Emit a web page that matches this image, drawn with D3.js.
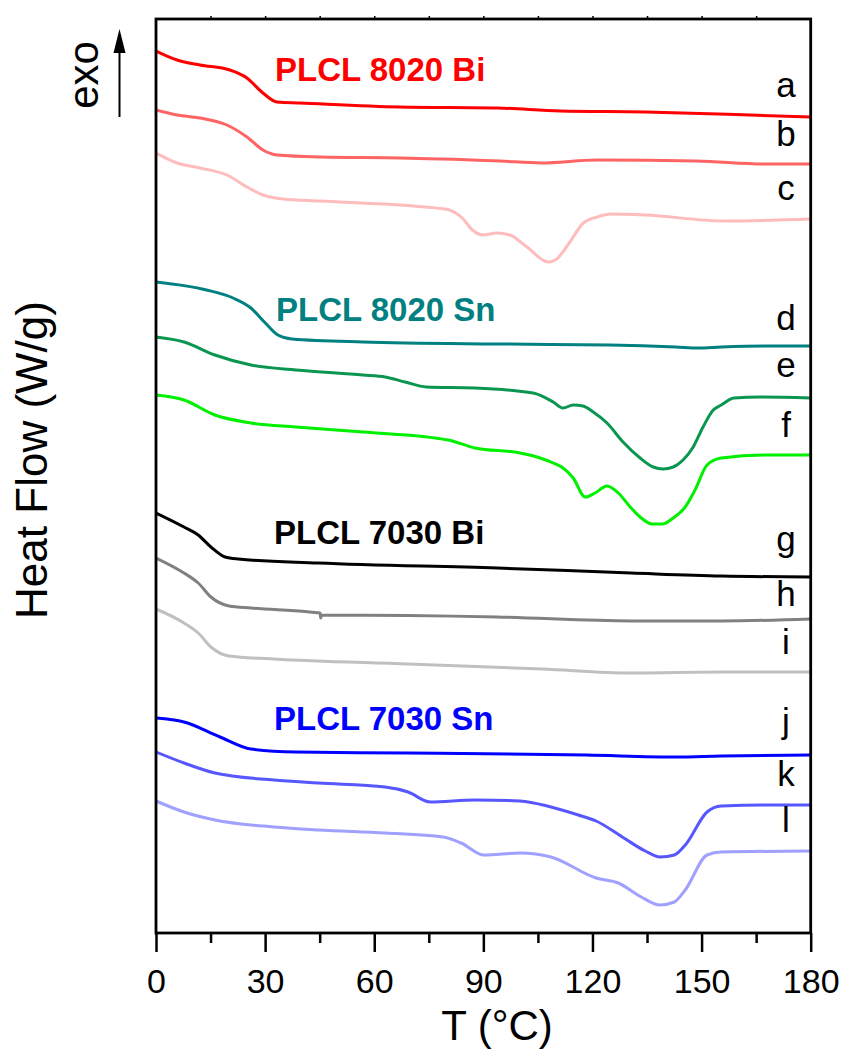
<!DOCTYPE html>
<html>
<head>
<meta charset="utf-8">
<script src="https://cdn.jsdelivr.net/npm/d3@7"></script>
<style>
  html, body { margin: 0; padding: 0; background: #fff; }
  svg { display: block; font-family: "Liberation Sans", Arial, Helvetica, sans-serif; }
</style>
</head>
<body>
<svg id="chart" width="843" height="1052"></svg>
<script>
// DSC heating traces, stacked with vertical offsets (heat flow, arbitrary W/g offset units)
const xTicks = [0, 30, 60, 90, 120, 150, 180];
const xMinorTicks = [15, 45, 75, 105, 135, 165];

const curveIds = ["a", "b", "c", "d", "e", "f", "g", "h", "i", "j", "k", "l"];
const groupTitles = ["PLCL 8020 Bi", "PLCL 8020 Sn", "PLCL 7030 Bi", "PLCL 7030 Sn"];

// temperature (°C) and heat flow for every trace
const tA = [0, 5.8, 12.1, 20.3, 25.0, 29.4, 33.3, 39.6, 67.1, 93.8, 111.1, 134.5, 163.4, 180];
const hfA = [8.82, 8.73, 8.68, 8.63, 8.55, 8.40, 8.31, 8.30, 8.26, 8.25, 8.22, 8.21, 8.18, 8.16];

const tB = [0, 5.8, 12.1, 19.5, 25.0, 29.4, 33.3, 45.1, 67.1, 94.6, 105.9, 121.3, 148.8, 167.5, 180];
const hfB = [8.23, 8.18, 8.15, 8.08, 7.96, 7.83, 7.78, 7.76, 7.75, 7.72, 7.70, 7.73, 7.72, 7.69, 7.69];

const tC = [0, 5.8, 12.1, 19.5, 25.0, 29.4, 34.9, 45.1, 79.5, 84.2, 87.0, 89.9, 93.8, 97.3, 102.0, 107.8, 109.8, 113.6, 117.5, 121.3, 124.9, 134.5, 156.2, 180];
const hfC = [7.80, 7.70, 7.65, 7.58, 7.46, 7.38, 7.34, 7.32, 7.24, 7.15, 7.03, 6.98, 7.00, 6.98, 6.86, 6.71, 6.73, 6.90, 7.10, 7.16, 7.19, 7.18, 7.12, 7.14];

const tD = [0, 13.9, 21.2, 26.1, 29.8, 33.5, 37.4, 56.9, 93.8, 124.6, 143.0, 149.1, 155.4, 167.5, 180];
const hfD = [6.51, 6.43, 6.35, 6.25, 6.11, 5.98, 5.94, 5.91, 5.89, 5.88, 5.86, 5.85, 5.86, 5.87, 5.87];

const tE = [0, 7.7, 16.2, 26.1, 38.5, 56.9, 63.0, 68.5, 74.3, 87.7, 103.7, 109.2, 111.9, 114.7, 117.4, 120.2, 124.0, 128.4, 133.1, 136.7, 139.4, 142.2, 144.9, 147.7, 150.4, 153.2, 155.4, 158.9, 166.1, 180];
const hfE = [5.96, 5.91, 5.78, 5.68, 5.63, 5.58, 5.56, 5.51, 5.46, 5.45, 5.40, 5.31, 5.25, 5.28, 5.27, 5.21, 5.10, 4.91, 4.75, 4.66, 4.64, 4.66, 4.73, 4.86, 5.06, 5.23, 5.28, 5.35, 5.36, 5.35];

const tF = [0, 7.7, 16.2, 26.1, 38.5, 56.9, 80.3, 87.7, 100.1, 105.6, 109.2, 111.9, 114.7, 118.0, 120.7, 124.0, 127.1, 130.4, 133.1, 136.4, 139.2, 142.2, 145.5, 148.2, 151.5, 155.4, 167.5, 180];
const hfF = [5.38, 5.33, 5.18, 5.10, 5.06, 5.01, 4.93, 4.85, 4.80, 4.75, 4.70, 4.65, 4.55, 4.36, 4.40, 4.47, 4.40, 4.26, 4.16, 4.09, 4.09, 4.15, 4.26, 4.43, 4.68, 4.75, 4.78, 4.78];

const tG = [0, 7.7, 11.6, 15.1, 19.0, 22.6, 44.6, 93.8, 130.6, 155.4, 180];
const hfG = [4.20, 4.06, 3.98, 3.86, 3.76, 3.74, 3.70, 3.65, 3.60, 3.57, 3.56];

const tH = [0, 7.7, 11.6, 15.1, 20.1, 26.1, 45.1, 45.3, 45.5, 93.8, 130.6, 155.4, 180];
const hfH = [3.75, 3.60, 3.50, 3.36, 3.27, 3.25, 3.20, 3.15, 3.18, 3.16, 3.12, 3.12, 3.14];

const tI = [0, 7.7, 11.6, 15.1, 20.1, 32.4, 69.3, 106.2, 130.6, 155.4, 180];
const hfI = [3.24, 3.10, 3.00, 2.86, 2.77, 2.74, 2.69, 2.64, 2.60, 2.61, 2.61];

const tJ = [0, 7.7, 17.6, 26.1, 38.5, 69.3, 118.3, 143.0, 155.4, 180];
const hfJ = [2.15, 2.11, 1.96, 1.84, 1.81, 1.80, 1.78, 1.76, 1.77, 1.78];

const tK = [0, 7.7, 16.2, 32.4, 44.6, 63.0, 69.3, 75.4, 87.7, 100.1, 108.6, 116.1, 121.0, 128.2, 134.5, 138.6, 142.5, 145.5, 151.5, 155.4, 167.5, 180];
const hfK = [1.81, 1.70, 1.60, 1.53, 1.50, 1.46, 1.41, 1.31, 1.33, 1.32, 1.26, 1.18, 1.12, 0.96, 0.82, 0.76, 0.78, 0.88, 1.21, 1.27, 1.28, 1.28];

const tL = [0, 7.7, 16.2, 32.4, 44.6, 63.0, 78.9, 83.9, 90.2, 100.1, 108.6, 121.0, 127.1, 133.4, 138.6, 142.5, 145.5, 151.5, 155.4, 180];
const hfL = [1.32, 1.21, 1.13, 1.06, 1.03, 1.00, 0.96, 0.90, 0.78, 0.80, 0.76, 0.55, 0.50, 0.36, 0.28, 0.31, 0.43, 0.78, 0.81, 0.82];

// ---- styling and layout ----
const curveColors = ["#ff0000", "#ff6464", "#ffbcbc",
                     "#008080", "#0a9650", "#00f000",
                     "#000000", "#808080", "#c0c0c0",
                     "#0000ff", "#5757ff", "#a0a0ff"];
const titleColors = ["#ff0000", "#008080", "#000000", "#0000ff"];
const titlePos = [[275, 81], [276, 321], [274, 544], [274, 730]];
const labelBaselines = [97, 146, 200, 330, 377, 437, 551, 606, 654, 733, 786, 832];

const plot = { left: 156, right: 810.7, top: 19, bottom: 933 };

const svg = d3.select("#chart");

const x = d3.scaleLinear().domain([0, 180]).range([plot.left, plot.right]);
const y = d3.scaleLinear().domain([0, 9.14]).range([plot.bottom, plot.top]);

const series = [
  [tA, hfA], [tB, hfB], [tC, hfC], [tD, hfD], [tE, hfE], [tF, hfF],
  [tG, hfG], [tH, hfH], [tI, hfI], [tJ, hfJ], [tK, hfK], [tL, hfL]
].map(([t, v], i) => ({ id: curveIds[i], color: curveColors[i], pts: t.map((tt, k) => [tt, v[k]]) }));

const line = d3.line()
  .x(d => x(d[0]))
  .y(d => y(d[1]))
  .curve(d3.curveMonotoneX);

svg.append("clipPath").attr("id", "plotClip")
  .append("rect")
  .attr("x", plot.left).attr("y", plot.top)
  .attr("width", plot.right - plot.left).attr("height", plot.bottom - plot.top);

svg.append("g").attr("clip-path", "url(#plotClip)")
  .selectAll("path.trace")
  .data(series)
  .join("path")
  .attr("class", "trace")
  .attr("d", d => line(d.pts))
  .attr("fill", "none")
  .attr("stroke", d => d.color)
  .attr("stroke-width", 3)
  .attr("stroke-linejoin", "round");

// curve letters at the right end
svg.append("g").selectAll("text")
  .data(series)
  .join("text")
  .attr("x", 786)
  .attr("y", (d, i) => labelBaselines[i])
  .attr("text-anchor", "middle")
  .attr("font-size", 35)
  .attr("fill", "#000")
  .text(d => d.id);

// sample group titles
svg.append("g").selectAll("text")
  .data(groupTitles)
  .join("text")
  .attr("x", (d, i) => titlePos[i][0])
  .attr("y", (d, i) => titlePos[i][1])
  .attr("font-size", 33)
  .attr("font-weight", "bold")
  .attr("fill", (d, i) => titleColors[i])
  .text(d => d);

// bottom axis: major ticks with labels, minor ticks without
const xAxis = d3.axisBottom(x).tickValues(xTicks).tickSize(19).tickFormat(d3.format("d"));
const gx = svg.append("g").attr("transform", `translate(0,${plot.bottom})`).call(xAxis);
gx.select(".domain").remove();
gx.selectAll(".tick line").attr("stroke", "#000").attr("stroke-width", 2.5);
gx.selectAll(".tick text")
  .attr("y", 60).attr("dy", null)
  .attr("font-size", 34)
  .attr("font-family", "Liberation Sans, Arial, sans-serif")
  .attr("fill", "#000");

const xMinor = d3.axisBottom(x).tickValues(xMinorTicks).tickSize(10).tickFormat("");
const gxm = svg.append("g").attr("transform", `translate(0,${plot.bottom})`).call(xMinor);
gxm.select(".domain").remove();
gxm.selectAll(".tick line").attr("stroke", "#000").attr("stroke-width", 2.5);

// short ticks above the top border
const xTop = d3.axisTop(x).tickValues(xMinorTicks.concat(xTicks.slice(1, -1))).tickSize(3).tickFormat("");
const gt = svg.append("g").attr("transform", `translate(0,${plot.top})`).call(xTop);
gt.select(".domain").remove();
gt.selectAll(".tick line").attr("stroke", "#000").attr("stroke-width", 1.5);

// frame
svg.append("rect")
  .attr("x", plot.left).attr("y", plot.top)
  .attr("width", plot.right - plot.left).attr("height", plot.bottom - plot.top)
  .attr("fill", "none").attr("stroke", "#000").attr("stroke-width", 2.8);

// axis titles
svg.append("text")
  .attr("x", 497).attr("y", 1040)
  .attr("text-anchor", "middle")
  .attr("font-size", 42)
  .text("T (°C)");

svg.append("text")
  .attr("transform", "translate(47,460) rotate(-90)")
  .attr("text-anchor", "middle")
  .attr("font-size", 44)
  .text("Heat Flow (W/g)");

// exo direction marker
svg.append("text")
  .attr("transform", "translate(98,75) rotate(-90)")
  .attr("text-anchor", "middle")
  .attr("font-size", 42)
  .text("exo");

svg.append("line")
  .attr("x1", 119.5).attr("x2", 119.5)
  .attr("y1", 117).attr("y2", 50)
  .attr("stroke", "#000").attr("stroke-width", 2);
svg.append("path")
  .attr("d", "M119.5,29 L113.5,53 L125.5,53 Z")
  .attr("fill", "#000");
</script>
</body>
</html>
